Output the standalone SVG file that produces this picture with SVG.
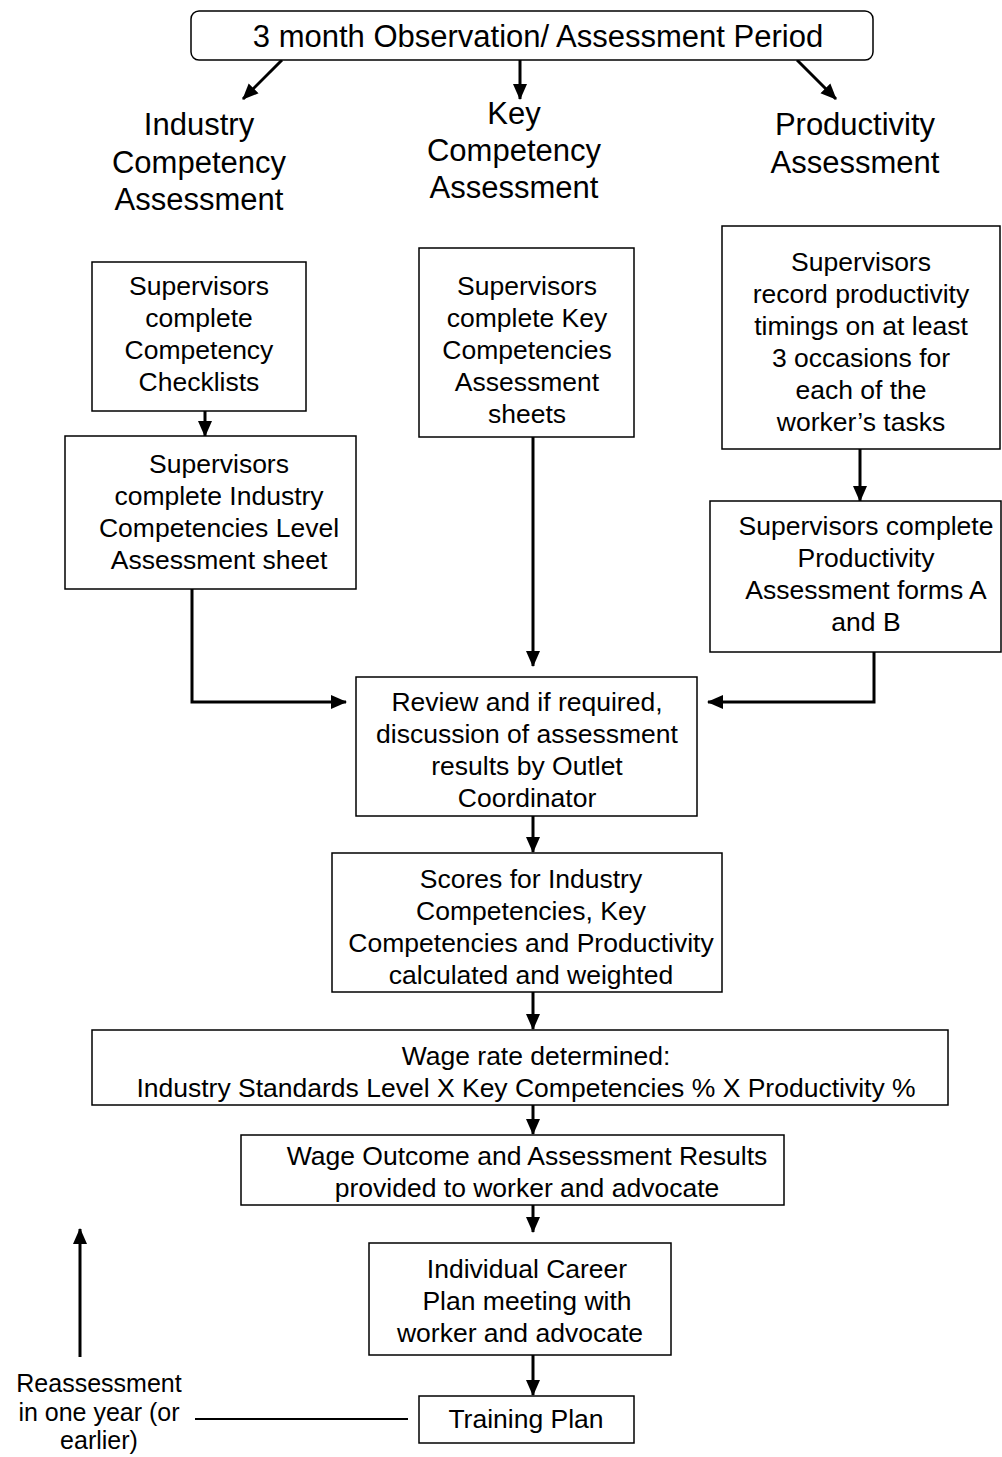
<svg xmlns="http://www.w3.org/2000/svg" width="1002" height="1457" viewBox="0 0 1002 1457">
  <defs>
    <marker id="arrow" markerUnits="userSpaceOnUse" markerWidth="16" markerHeight="16" viewBox="0 0 16 16" refX="15" refY="8" orient="auto">
      <path d="M0,1 L16,8 L0,15 Z" fill="#000"/>
    </marker>
  </defs>
  <style>
    text { font-family: "Liberation Sans", Arial, sans-serif; fill: #000; text-anchor: middle; }
    .box { fill: #fff; stroke: #000; stroke-width: 1.5; }
    .t { font-size: 26.5px; }
    .n { font-size: 25px; }
    .h { font-size: 31px; }
    .arr { fill: none; stroke: #000; stroke-width: 3; marker-end: url(#arrow); }
    .ln { fill: none; stroke: #000; stroke-width: 2; }
  </style>
  <rect width="1002" height="1457" fill="#fff"/>

  <!-- connectors -->
  <g id="connectors">
    <line class="arr" x1="282" y1="60" x2="243" y2="99"/>
    <line class="arr" x1="520" y1="60" x2="520" y2="99"/>
    <line class="arr" x1="797" y1="60" x2="836" y2="99"/>
    <line class="arr" x1="205" y1="411" x2="205" y2="436"/>
    <line class="arr" x1="860" y1="449" x2="860" y2="501"/>
    <line class="arr" x1="533" y1="437" x2="533" y2="666"/>
    <polyline class="arr" points="192,589 192,702 346,702"/>
    <polyline class="arr" points="874,652 874,702 708,702"/>
    <line class="arr" x1="533" y1="816" x2="533" y2="852"/>
    <line class="arr" x1="533" y1="992" x2="533" y2="1029"/>
    <line class="arr" x1="533" y1="1105" x2="533" y2="1134"/>
    <line class="arr" x1="533" y1="1205" x2="533" y2="1232"/>
    <line class="arr" x1="533" y1="1355" x2="533" y2="1395"/>
    <line class="arr" x1="80" y1="1357" x2="80" y2="1229"/>
    <line class="ln" x1="195" y1="1419" x2="408" y2="1419"/>
  </g>

  <!-- top period box -->
  <g id="period">
    <rect class="box" x="191" y="11" width="682" height="49" rx="8"/>
    <text class="h" x="538" y="47">3 month Observation/ Assessment Period</text>
  </g>

  <!-- stream headings -->
  <g id="industry-heading">
    <text class="h" x="199" y="135">Industry</text>
    <text class="h" x="199" y="173">Competency</text>
    <text class="h" x="199" y="210">Assessment</text>
  </g>
  <g id="key-heading">
    <text class="h" x="514" y="124">Key</text>
    <text class="h" x="514" y="161">Competency</text>
    <text class="h" x="514" y="198">Assessment</text>
  </g>
  <g id="productivity-heading">
    <text class="h" x="855" y="135">Productivity</text>
    <text class="h" x="855" y="173">Assessment</text>
  </g>

  <!-- industry competency stream -->
  <g id="checklists">
    <rect class="box" x="92" y="262" width="214" height="149"/>
    <text class="t" x="199" y="295">Supervisors</text>
    <text class="t" x="199" y="327">complete</text>
    <text class="t" x="199" y="359">Competency</text>
    <text class="t" x="199" y="391">Checklists</text>
  </g>
  <g id="level-sheet">
    <rect class="box" x="65" y="436" width="291" height="153"/>
    <text class="t" x="219" y="473">Supervisors</text>
    <text class="t" x="219" y="505">complete Industry</text>
    <text class="t" x="219" y="537">Competencies Level</text>
    <text class="t" x="219" y="569">Assessment sheet</text>
  </g>

  <!-- key competency stream -->
  <g id="key-sheets">
    <rect class="box" x="419" y="248" width="215" height="189"/>
    <text class="t" x="527" y="295">Supervisors</text>
    <text class="t" x="527" y="327">complete Key</text>
    <text class="t" x="527" y="359">Competencies</text>
    <text class="t" x="527" y="391">Assessment</text>
    <text class="t" x="527" y="423">sheets</text>
  </g>

  <!-- productivity stream -->
  <g id="timings">
    <rect class="box" x="722" y="226" width="278" height="223"/>
    <text class="t" x="861" y="271">Supervisors</text>
    <text class="t" x="861" y="303">record productivity</text>
    <text class="t" x="861" y="335">timings on at least</text>
    <text class="t" x="861" y="367">3 occasions for</text>
    <text class="t" x="861" y="399">each of the</text>
    <text class="t" x="861" y="431">worker’s tasks</text>
  </g>
  <g id="productivity-forms">
    <rect class="box" x="710" y="501" width="291" height="151"/>
    <text class="t" x="866" y="535">Supervisors complete</text>
    <text class="t" x="866" y="567">Productivity</text>
    <text class="t" x="866" y="599">Assessment forms A</text>
    <text class="t" x="866" y="631">and B</text>
  </g>

  <!-- combined flow -->
  <g id="review">
    <rect class="box" x="356" y="677" width="341" height="139"/>
    <text class="t" x="527" y="711">Review and if required,</text>
    <text class="t" x="527" y="743">discussion of assessment</text>
    <text class="t" x="527" y="775">results by Outlet</text>
    <text class="t" x="527" y="807">Coordinator</text>
  </g>
  <g id="scores">
    <rect class="box" x="332" y="853" width="390" height="139"/>
    <text class="t" x="531" y="888">Scores for Industry</text>
    <text class="t" x="531" y="920">Competencies, Key</text>
    <text class="t" x="531" y="952">Competencies and Productivity</text>
    <text class="t" x="531" y="984">calculated and weighted</text>
  </g>
  <g id="wage-rate">
    <rect class="box" x="92" y="1030" width="856" height="75"/>
    <text class="t" x="536" y="1065">Wage rate determined:</text>
    <text class="t" x="526" y="1097">Industry Standards Level X Key Competencies % X Productivity %</text>
  </g>
  <g id="wage-outcome">
    <rect class="box" x="241" y="1135" width="543" height="70"/>
    <text class="t" x="527" y="1165">Wage Outcome and Assessment Results</text>
    <text class="t" x="527" y="1197">provided to worker and advocate</text>
  </g>
  <g id="career-plan">
    <rect class="box" x="369" y="1243" width="302" height="112"/>
    <text class="t" x="527" y="1278">Individual Career</text>
    <text class="t" x="527" y="1310">Plan meeting with</text>
    <text class="t" x="520" y="1342">worker and advocate</text>
  </g>
  <g id="training-plan">
    <rect class="box" x="419" y="1396" width="215" height="47"/>
    <text class="t" x="526" y="1428">Training Plan</text>
  </g>

  <!-- reassessment note -->
  <g id="reassessment">
    <text class="n" x="99" y="1392">Reassessment</text>
    <text class="n" x="99" y="1421">in one year (or</text>
    <text class="n" x="99" y="1449">earlier)</text>
  </g>
</svg>
